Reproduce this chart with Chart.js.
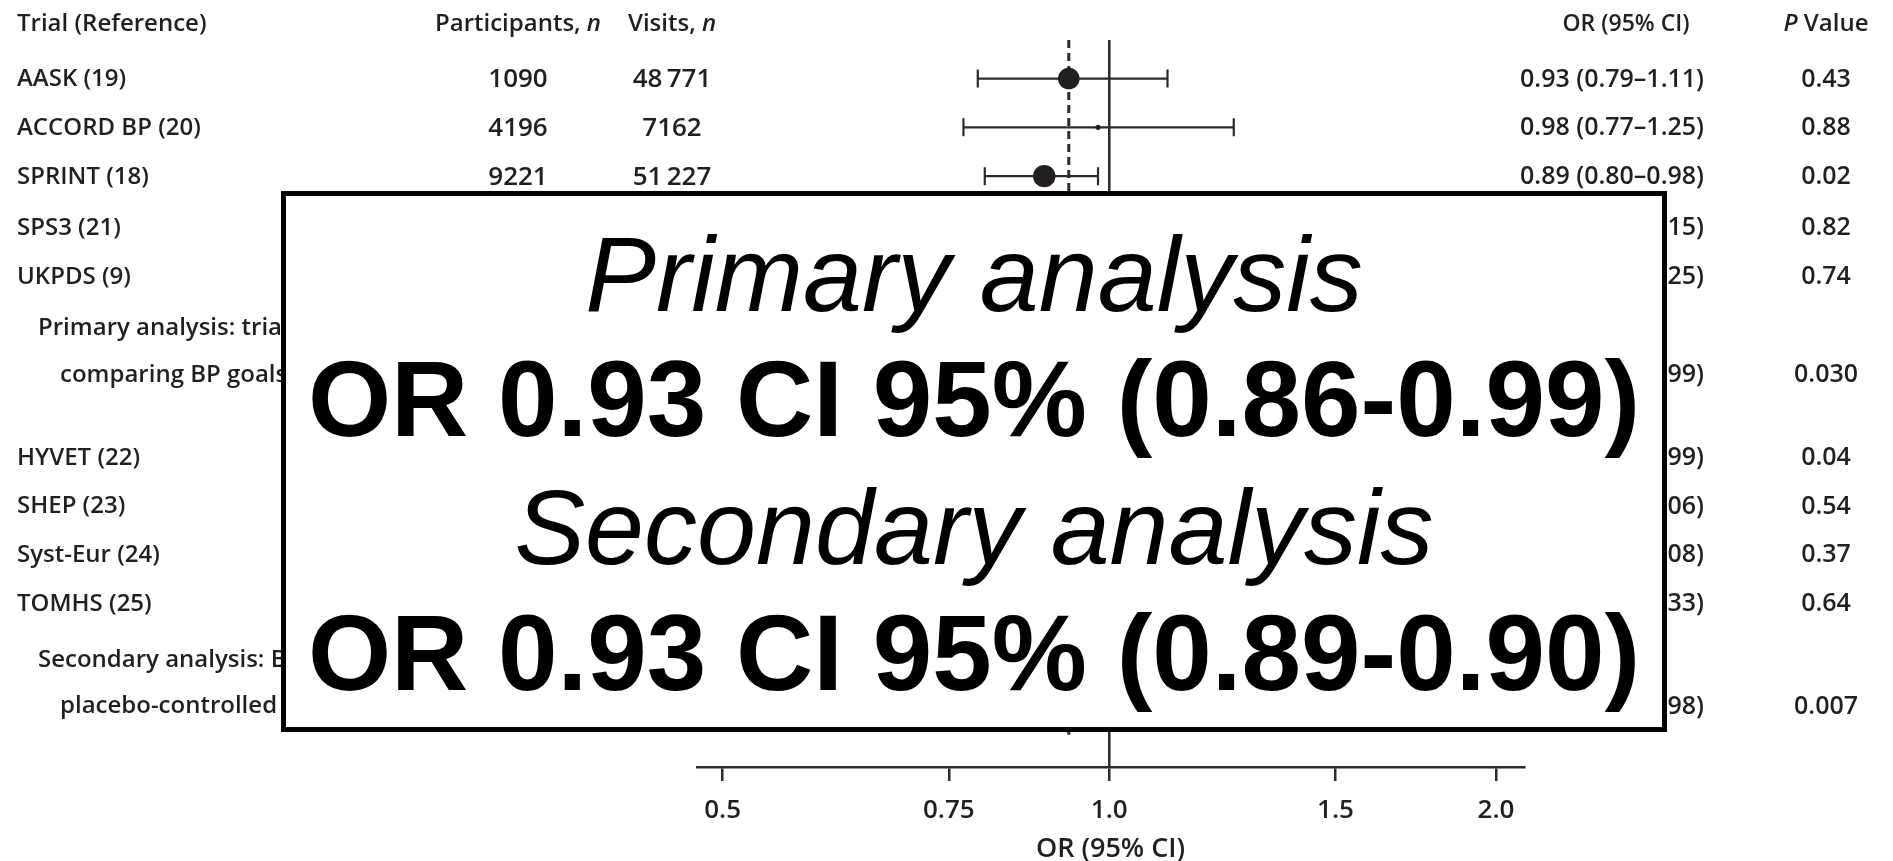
<!DOCTYPE html>
<html>
<head>
<meta charset="utf-8">
<title>Forest plot</title>
<script src="https://cdn.jsdelivr.net/npm/chart.js@4.4.0/dist/chart.umd.min.js"></script>
<style>
  html, body { margin: 0; padding: 0; background: #fff; }
  canvas { display: block; }
</style>
</head>
<body>
<canvas id="forest" width="1893" height="861"></canvas>
<script>
// trials, in the order they are listed (first five compare BP goals, last four are placebo-controlled)
const trialNames = ['AASK (19)', 'ACCORD BP (20)', 'SPRINT (18)', 'SPS3 (21)', 'UKPDS (9)',
                    'HYVET (22)', 'SHEP (23)', 'Syst-Eur (24)', 'TOMHS (25)'];
const participants = [1090, 4196, 9221, null, null, null, null, null, null];
const visits = [48771, 7162, 51227, null, null, null, null, null, null];
const oddsRatios = [0.93, 0.98, 0.89, 0.98, 0.97, 0.86, 0.95, 0.93, 0.91];
const ciLower = [0.79, 0.77, 0.80, 0.84, 0.76, 0.75, 0.84, 0.79, 0.62];
const ciUpper = [1.11, 1.25, 0.98, 1.15, 1.25, 0.99, 1.06, 1.08, 1.33];
const pValues = ['0.43', '0.88', '0.02', '0.82', '0.74', '0.04', '0.54', '0.37', '0.64'];

// pooled estimates
const pooledLabels = [['Primary analysis: trials', 'comparing BP goals'],
                      ['Secondary analysis: BP-lowering vs.', 'placebo-controlled trials']];
const pooledOR = [0.93, 0.90];
const pooledLower = [0.86, 0.83];
const pooledUpper = [0.99, 0.98];
const pooledP = ['0.030', '0.007'];

const xTicks = [0.5, 0.75, 1.0, 1.5, 2.0];
const xTickLabels = ['0.5', '0.75', '1.0', '1.5', '2.0'];

// text pasted over the plot
const overlayLines = [
    { text: 'Primary analysis', bold: false },
    { text: 'OR 0.93 CI 95% (0.86-0.99)', bold: true },
    { text: 'Secondary analysis', bold: false },
    { text: 'OR 0.93 CI 95% (0.89-0.90)', bold: true }
];

// layout: row slots on the y scale
const trialSlots = [1, 2, 3, 4.05, 5.05, 8.75, 9.75, 10.75, 11.75];
const pooledSlots = [7.05, 13.85];
const headerSlot = -0.13;
const refLineEnd = 14.45;

const INK = '#231f20';
const LINE = '#2b2b2b';
const TABLE_FONT = '"Open Sans", sans-serif';
const cols = { trial: 17, indent1: 38, indent2: 60, participants: 518, visits: 672, or: 1612, orHead: 1626, p: 1826 };

function tableFont(italic, size) {
    return `${italic ? 'italic ' : ''}600 ${size || 24}px ${TABLE_FONT}`;
}

function fmtCI(or, lo, hi) {
    return `${or.toFixed(2)} (${lo.toFixed(2)}\u2013${hi.toFixed(2)})`;
}

function fmtCount(n) {
    if (n == null) return '';
    const s = String(n);
    return s.length > 4 ? s.slice(0, -3) + '\u2009' + s.slice(-3) : s;
}

// parts: [[text, italic], ...]
function drawParts(ctx, parts, x, y, align, size) {
    let total = 0;
    parts.forEach(([t, it]) => { ctx.font = tableFont(it, size); total += ctx.measureText(t).width; });
    let cx = align === 'center' ? x - total / 2 : x;
    ctx.textAlign = 'left';
    parts.forEach(([t, it]) => {
        ctx.font = tableFont(it, size);
        ctx.fillText(t, cx, y);
        cx += ctx.measureText(t).width;
    });
}

const forestPlugin = {
    id: 'forest',
    beforeDatasetsDraw(chart) {
        const { ctx, chartArea, scales: { x, y } } = chart;
        ctx.save();
        ctx.strokeStyle = LINE;

        // line of no effect
        ctx.lineWidth = 2.5;
        ctx.beginPath();
        ctx.moveTo(x.getPixelForValue(1), chartArea.top);
        ctx.lineTo(x.getPixelForValue(1), chartArea.bottom);
        ctx.stroke();

        // dashed line at pooled estimate
        ctx.lineWidth = 3;
        ctx.setLineDash([8, 5]);
        ctx.beginPath();
        ctx.moveTo(x.getPixelForValue(pooledOR[0]), chartArea.top);
        ctx.lineTo(x.getPixelForValue(pooledOR[0]), y.getPixelForValue(refLineEnd));
        ctx.stroke();
        ctx.setLineDash([]);

        // confidence intervals
        ctx.lineWidth = 2.2;
        trialNames.forEach((_, i) => {
            const py = y.getPixelForValue(trialSlots[i]);
            const x1 = x.getPixelForValue(ciLower[i]);
            const x2 = x.getPixelForValue(ciUpper[i]);
            ctx.beginPath();
            ctx.moveTo(x1, py); ctx.lineTo(x2, py);
            ctx.moveTo(x1, py - 9); ctx.lineTo(x1, py + 9);
            ctx.moveTo(x2, py - 9); ctx.lineTo(x2, py + 9);
            ctx.stroke();
        });

        // pooled diamonds
        ctx.fillStyle = INK;
        pooledOR.forEach((or, i) => {
            const py = y.getPixelForValue(pooledSlots[i]);
            ctx.beginPath();
            ctx.moveTo(x.getPixelForValue(pooledLower[i]), py);
            ctx.lineTo(x.getPixelForValue(or), py - 10);
            ctx.lineTo(x.getPixelForValue(pooledUpper[i]), py);
            ctx.lineTo(x.getPixelForValue(or), py + 10);
            ctx.closePath();
            ctx.fill();
        });
        ctx.restore();
    },
    afterDraw(chart) {
        const { ctx, scales: { y } } = chart;
        ctx.save();
        ctx.fillStyle = INK;
        ctx.textBaseline = 'middle';
        const rowY = slot => y.getPixelForValue(slot) + 1;

        // header
        const hy = rowY(headerSlot);
        drawParts(ctx, [['Trial (Reference)', false]], cols.trial, hy, 'left');
        drawParts(ctx, [['Participants, ', false], ['n', true]], cols.participants, hy, 'center');
        drawParts(ctx, [['Visits, ', false], ['n', true]], cols.visits, hy, 'center');
        drawParts(ctx, [['OR (95% CI)', false]], cols.orHead, hy, 'center', 23);
        drawParts(ctx, [['P', true], [' Value', false]], cols.p, hy, 'center');

        // trial rows
        trialNames.forEach((name, i) => {
            const ty = rowY(trialSlots[i]);
            drawParts(ctx, [[name, false]], cols.trial, ty, 'left');
            drawParts(ctx, [[fmtCount(participants[i]), false]], cols.participants, ty, 'center', 26);
            drawParts(ctx, [[fmtCount(visits[i]), false]], cols.visits, ty, 'center', 26);
            drawParts(ctx, [[fmtCI(oddsRatios[i], ciLower[i], ciUpper[i]), false]], cols.or, ty, 'center', 25);
            drawParts(ctx, [[pValues[i], false]], cols.p, ty, 'center', 25);
        });

        // pooled rows
        pooledOR.forEach((or, i) => {
            const ty = rowY(pooledSlots[i]);
            drawParts(ctx, [[pooledLabels[i][0], false]], cols.indent1, rowY(pooledSlots[i] - 0.95), 'left');
            drawParts(ctx, [[pooledLabels[i][1], false]], cols.indent2, ty, 'left');
            drawParts(ctx, [[fmtCI(or, pooledLower[i], pooledUpper[i]), false]], cols.or, ty, 'center', 25);
            drawParts(ctx, [[pooledP[i], false]], cols.p, ty, 'center', 25);
        });

        // white box with summary text on top of the plot
        const box = { x: 283.5, y: 193.5, w: 1381, h: 536 };
        ctx.fillStyle = '#ffffff';
        ctx.fillRect(box.x, box.y, box.w, box.h);
        ctx.strokeStyle = '#000000';
        ctx.lineWidth = 5;
        ctx.strokeRect(box.x, box.y, box.w, box.h);

        const baselines = [311, 436, 564, 690];
        const cx = box.x + box.w / 2;
        ctx.fillStyle = '#000000';
        ctx.textAlign = 'center';
        ctx.textBaseline = 'alphabetic';
        overlayLines.forEach((line, i) => {
            ctx.font = line.bold ? 'bold 107px "Liberation Sans", Arial, sans-serif'
                                 : 'italic 106px "Liberation Sans", Arial, sans-serif';
            ctx.fillText(line.text, cx, baselines[i]);
        });
        ctx.restore();
    }
};

const ctx = document.getElementById('forest').getContext('2d');
const chart = new Chart(ctx, {
    type: 'scatter',
    data: {
        datasets: [{
            data: trialNames.map((_, i) => ({ x: oddsRatios[i], y: trialSlots[i] })),
            backgroundColor: INK,
            borderWidth: 0,
            pointRadius: c => {
                const v = visits[c.dataIndex];
                return v ? 11 * Math.pow(v / 50000, 0.75) : 6;
            }
        }]
    },
    options: {
        responsive: false,
        animation: false,
        events: [],
        layout: { padding: { left: 697, right: 369, top: 40, bottom: 0 } },
        plugins: {
            legend: { display: false },
            tooltip: { enabled: false }
        },
        scales: {
            x: {
                type: 'logarithmic',
                position: 'bottom',
                min: 0.4776,
                max: 2.103,
                afterBuildTicks: scale => {
                    scale.ticks = xTicks.map(v => ({ value: v }));
                },
                afterFit: scale => { scale.height = 94; },
                ticks: {
                    autoSkip: false,
                    maxRotation: 0,
                    padding: 14,
                    color: INK,
                    font: { family: TABLE_FONT, size: 26, weight: '600' },
                    callback: (val, i) => xTickLabels[i]
                },
                grid: {
                    drawOnChartArea: false,
                    drawTicks: true,
                    tickLength: 14,
                    color: LINE,
                    lineWidth: 2.5
                },
                border: { display: true, color: LINE, width: 2.5 },
                title: {
                    display: true,
                    text: 'OR (95% CI)',
                    color: INK,
                    font: { family: TABLE_FONT, size: 27, weight: '600', lineHeight: 0.9 },
                    padding: { top: 0, bottom: 0 }
                }
            },
            y: {
                type: 'linear',
                reverse: true,
                min: 0.21,
                max: 15.11,
                display: false
            }
        }
    },
    plugins: [forestPlugin]
});
</script>
</body>
</html>
